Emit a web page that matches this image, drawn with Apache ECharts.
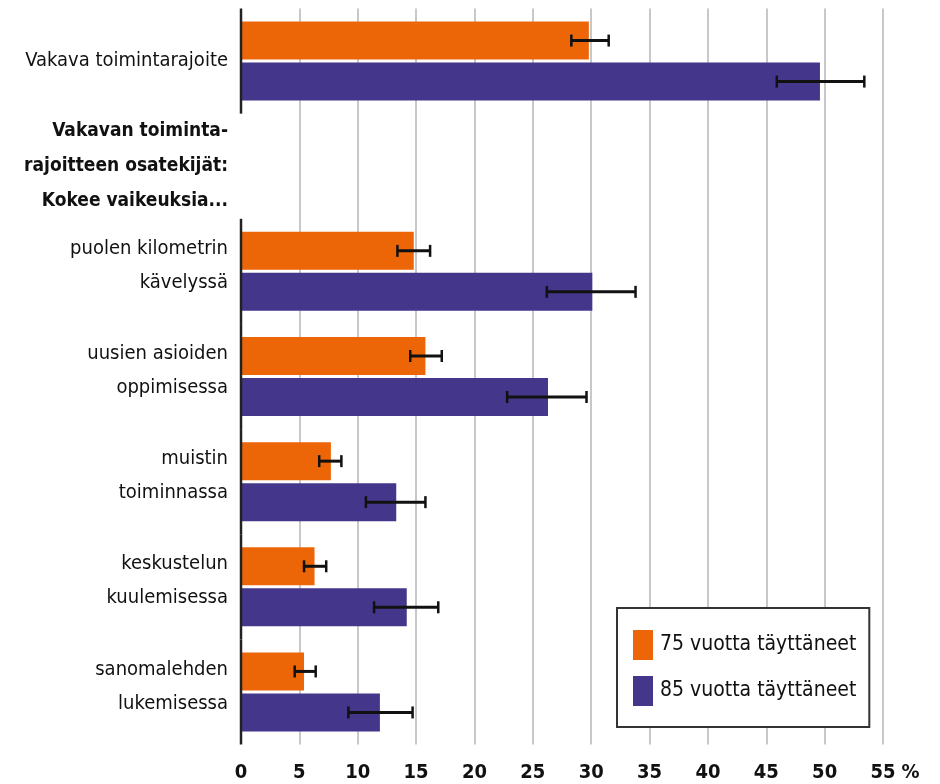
<!DOCTYPE html>
<html>
<head>
<meta charset="utf-8">
<script src="https://cdn.jsdelivr.net/npm/echarts@6/dist/echarts.min.js"></script>
<style>
html,body{margin:0;padding:0;background:#fff;}
#chart{width:940px;height:784px;}
</style>
</head>
<body>
<div id="chart"></div>
<script>
const categories = [
  'Vakava toimintarajoite',
  'Vakavan toiminta-\nrajoitteen osatekijät:\nKokee vaikeuksia...',
  'puolen kilometrin\nkävelyssä',
  'uusien asioiden\noppimisessa',
  'muistin\ntoiminnassa',
  'keskustelun\nkuulemisessa',
  'sanomalehden\nlukemisessa'
];
const headerIndex = 1;
const seriesNames = ['75 vuotta täyttäneet', '85 vuotta täyttäneet'];
const values75 = [29.8, null, 14.8, 15.8, 7.7, 6.3, 5.4];
const low75    = [28.3, null, 13.4, 14.5, 6.7, 5.4, 4.6];
const high75   = [31.5, null, 16.2, 17.2, 8.6, 7.3, 6.4];
const values85 = [49.6, null, 30.1, 26.3, 13.3, 14.2, 11.9];
const low85    = [45.9, null, 26.2, 22.8, 10.7, 11.4, 9.2];
const high85   = [53.4, null, 33.8, 29.6, 15.8, 16.9, 14.7];
const xTicks = [0, 5, 10, 15, 20, 25, 30, 35, 40, 45, 50, 55];

const FONT = '"DejaVu Sans Condensed", "Liberation Sans Narrow", sans-serif';
const ORANGE = '#EC6608';
const PURPLE = '#44378B';
const BAR_W = 38;
const BAR_GAP = 3;

function errData(lo, hi) {
  const out = [];
  for (let i = 0; i < categories.length; i++) {
    if (lo[i] != null) out.push([i, lo[i], hi[i]]);
  }
  return out;
}

function errRender(sign) {
  return function (params, api) {
    const i = api.value(0);
    const p1 = api.coord([api.value(1), i]);
    const p2 = api.coord([api.value(2), i]);
    const off = sign * (BAR_W + BAR_GAP) / 2;
    const y = p1[1] + off;
    const cap = 6;
    const style = { stroke: '#111', lineWidth: 3 };
    return {
      type: 'group',
      children: [
        { type: 'line', shape: { x1: p1[0], y1: y, x2: p2[0], y2: y }, style: style },
        { type: 'line', shape: { x1: p1[0], y1: y - cap, x2: p1[0], y2: y + cap }, style: { stroke: '#111', lineWidth: 2.5 } },
        { type: 'line', shape: { x1: p2[0], y1: y - cap, x2: p2[0], y2: y + cap }, style: { stroke: '#111', lineWidth: 2.5 } }
      ]
    };
  };
}

const axisSegs = categories.map((c, i) => i).filter(i => i !== headerIndex).map(i => [0, i]);

const yData = categories.map((c, i) => {
  const multi = i !== headerIndex && c.indexOf('\n') >= 0;
  return multi ? { value: c, textStyle: { padding: [0, 0, 11, 0] } } : c;
});

const chart = echarts.init(document.getElementById('chart'), null, { renderer: 'canvas' });
chart.setOption({
  animation: false,
  backgroundColor: '#fff',
  grid: { left: 241, right: 57, top: 8.5, bottom: 39.5, containLabel: false, outerBoundsMode: 'none' },
  legend: {
    orient: 'vertical',
    left: 617,
    top: 608,
    padding: [22, 13, 21, 16],
    itemGap: 16,
    itemWidth: 20,
    itemHeight: 30,
    icon: 'rect',
    backgroundColor: '#fff',
    borderColor: '#333',
    borderWidth: 2,
    textStyle: { fontFamily: FONT, fontSize: 21, color: '#111', padding: [0, 0, 0, 2] },
    data: seriesNames
  },
  xAxis: {
    type: 'value',
    min: 0,
    max: 55,
    interval: 5,
    name: '%',
    nameLocation: 'end',
    nameGap: 6,
    nameTextStyle: { fontFamily: FONT, fontSize: 20, fontWeight: 'bold', color: '#111', verticalAlign: 'top', padding: [18, 0, 0, 0] },
    axisLine: { show: false },
    axisTick: { show: false },
    axisLabel: { fontFamily: FONT, fontSize: 20, fontWeight: 'bold', color: '#111', margin: 18 },
    splitLine: { show: true, showMinLine: false, lineStyle: { color: '#c8c8c8', width: 2 } }
  },
  yAxis: {
    type: 'category',
    inverse: true,
    data: yData,
    axisLine: { show: false },
    axisTick: { show: false },
    axisLabel: {
      margin: 13,
      formatter: function (v, i) {
        const lines = v.split('\n');
        const s = i === headerIndex ? 'b' : 'n';
        return lines.map(l => '{' + s + '|' + l + '}').join('\n');
      },
      rich: {
        n: { fontFamily: FONT, fontSize: 20, color: '#111', lineHeight: 34, align: 'right' },
        b: { fontFamily: FONT, fontSize: 19, fontWeight: 'bold', color: '#111', lineHeight: 35, align: 'right' }
      }
    }
  },
  series: [
    {
      name: seriesNames[0], type: 'bar', data: values75, barWidth: BAR_W, barGap: (BAR_GAP / BAR_W * 100) + '%',
      itemStyle: { color: ORANGE }, z: 2
    },
    {
      name: seriesNames[1], type: 'bar', data: values85, barWidth: BAR_W,
      itemStyle: { color: PURPLE }, z: 2
    },
    {
      type: 'custom', data: errData(low75, high75), renderItem: errRender(-1), z: 5,
      encode: { x: [1, 2], y: 0 }, silent: true
    },
    {
      type: 'custom', data: errData(low85, high85), renderItem: errRender(1), z: 5,
      encode: { x: [1, 2], y: 0 }, silent: true
    },
    {
      type: 'custom', data: axisSegs, z: 6, silent: true,
      encode: { x: 0, y: 1 },
      renderItem: function (params, api) {
        const p = api.coord([api.value(0), api.value(1)]);
        const h = api.size([0, 1])[1];
        return { type: 'line', shape: { x1: p[0], y1: p[1] - h / 2, x2: p[0], y2: p[1] + h / 2 }, style: { stroke: '#222', lineWidth: 2.5 } };
      }
    }
  ]
});
</script>
</body>
</html>
